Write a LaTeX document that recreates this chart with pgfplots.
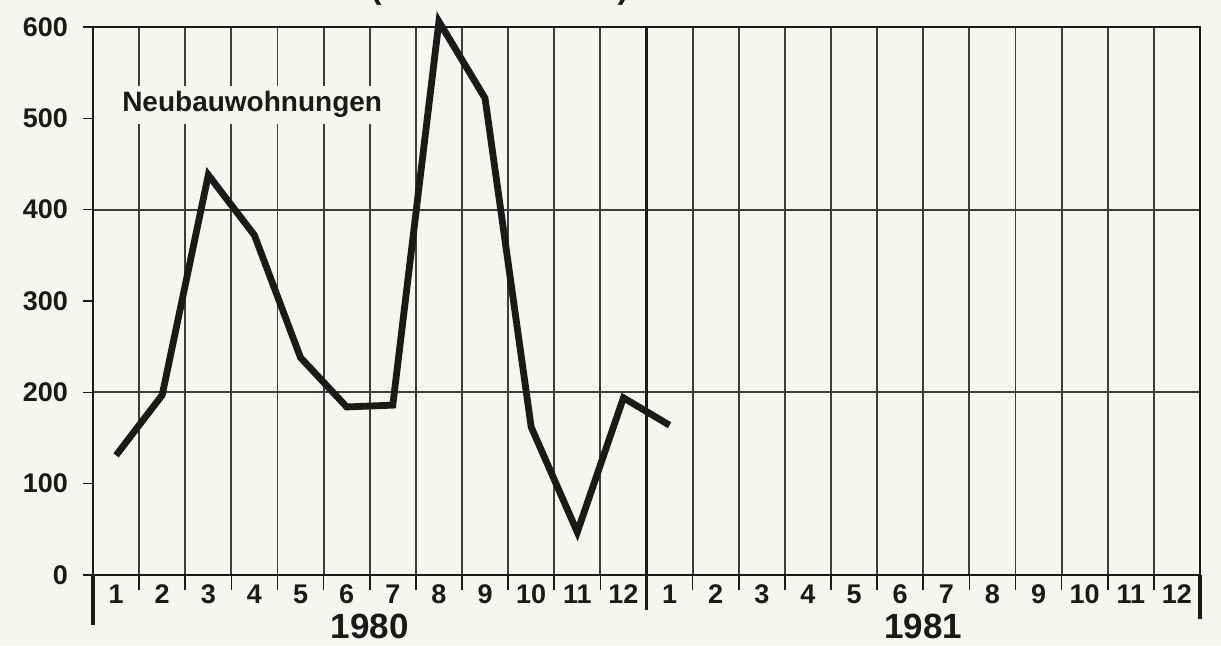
\documentclass[border=0pt]{standalone}
\usepackage{fontspec}
\setmainfont{Liberation Sans}
\usepackage{pgfplots}
\pgfplotsset{compat=1.18}
\definecolor{bg}{HTML}{F4F6F0}
\definecolor{ink}{HTML}{1A1A1A}
\begin{document}
\begin{tikzpicture}
\fill[bg] (-46.5pt,-35pt) rectangle (564pt,287.5pt);
\begin{axis}[
  scale only axis,
  width=553.5pt, height=274pt,
  xmin=0, xmax=24, ymin=0, ymax=600,
  clip=false,
  xtick pos=bottom, ytick pos=left,
  axis line style={ink, line width=1.4pt},
  xtick={0.5,1.5,...,23.5},
  xticklabels={1,2,3,4,5,6,7,8,9,10,11,12,1,2,3,4,5,6,7,8,9,10,11,12},
  major x tick style={draw=none},
  minor xtick={0,1,...,24},
  minor x tick style={ink, line width=0.8pt},
  minor tick length=7.5pt,
  xminorgrids,
  minor grid style={ink!85, line width=0.9pt},
  ytick={0,200,400,600},
  extra y ticks={100,300,500},
  extra y tick style={grid=none},
  ymajorgrids,
  major grid style={ink!85, line width=0.9pt},
  tick align=outside,
  major tick length=5pt,
  y tick style={ink, line width=0.8pt},
  tick label style={font=\fontsize{13.5}{15}\selectfont\bfseries, text=ink},
  /pgf/number format/assume math mode=true,
  xticklabel style={anchor=north, yshift=1.5pt, inner sep=1pt, text height=9.7pt, text depth=0pt},
  yticklabel style={xshift=-4pt},
]
\addplot[ink, line width=3.4pt, line join=miter, miter limit=4] coordinates {
  (0.5,131) (1.5,197) (2.5,438) (3.5,372) (4.5,238) (5.5,184) (6.5,186)
  (7.5,606) (8.5,522) (9.5,162) (10.5,47) (11.5,194) (12.5,164)
};
\node[fill=bg, inner sep=3pt, font=\fontsize{14}{16}\selectfont\bfseries, text=ink] at (axis cs:3.45,515) {Neubauwohnungen};
\draw[ink, line width=1.6pt] (axis cs:12,600) -- (axis cs:12,0) -- ++(0,-17.5pt);
\draw[ink, line width=1.6pt] (axis cs:0,0) -- ++(0,-25pt);
\draw[ink, line width=1.6pt] (axis cs:24,0) -- ++(0,-22pt);
\node[inner sep=0pt, font=\fontsize{17.5}{20}\selectfont\bfseries, text=ink] at ([yshift=-25.5pt]axis cs:6,0) {1980};
\node[inner sep=0pt, font=\fontsize{17.5}{20}\selectfont\bfseries, text=ink] at ([yshift=-25.5pt]axis cs:18,0) {1981};
\node[anchor=base west, font=\fontsize{16.6}{19}\selectfont\bfseries, text=ink, inner sep=0pt] at (-2.5pt,288.5pt) {WOHNUNGSBAU (BAUANTRÄGE)};
\end{axis}
\pgfresetboundingbox
\path[use as bounding box] (-46.5pt,-35pt) rectangle (564pt,287.5pt);
\end{tikzpicture}
\end{document}
